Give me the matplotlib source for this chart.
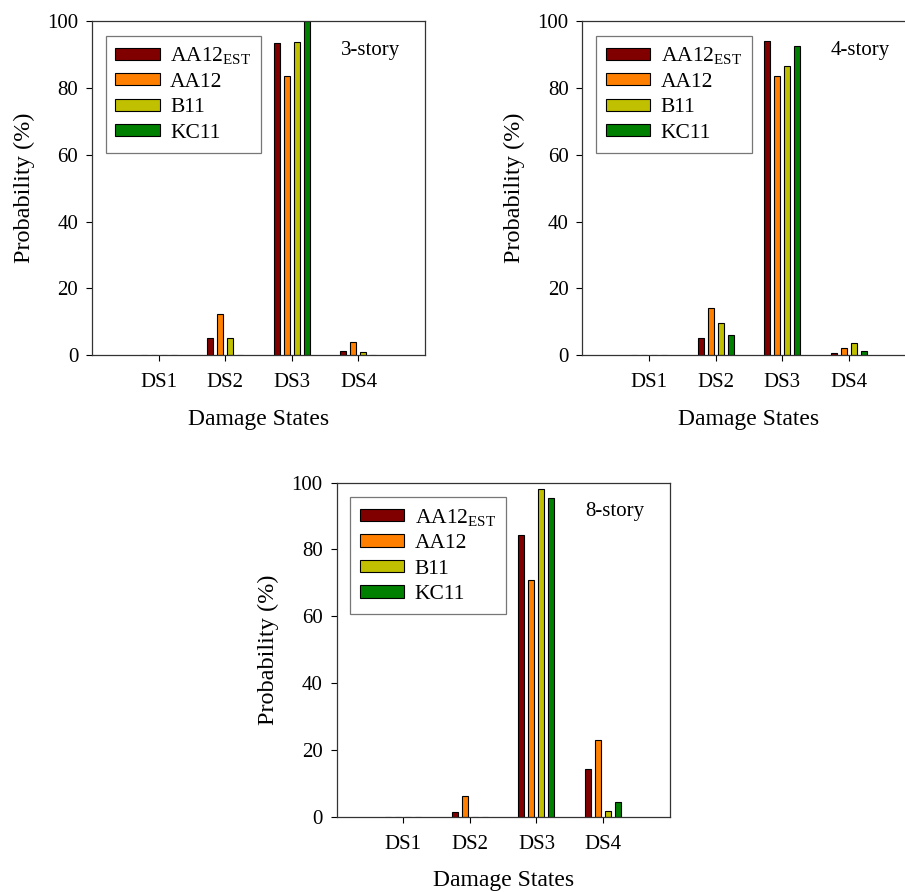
import numpy as np
import matplotlib
matplotlib.use("Agg")
import matplotlib.pyplot as plt

#fonts: Times-like serif for everything, also inside the subscript
plt.rcParams['font.family'] = ['Liberation Serif', 'DejaVu Serif']
plt.rcParams['mathtext.fontset'] = 'custom'
plt.rcParams['mathtext.rm'] = 'Liberation Serif'
plt.rcParams['mathtext.it'] = 'Liberation Serif:italic'

#data
states = ["DS1", "DS2", "DS3", "DS4"]
series = ["AA12$_{\\mathrm{EST}}$", "AA12", "B11", "KC11"]
colors = ["#800000", "#ff8000", "#c0c000", "#008000"]

story3 = [
    [0, 5.0, 93.4, 1.2],
    [0, 12.2, 83.7, 3.8],
    [0, 5.0, 93.7, 1.0],
    [0, 0, 100.0, 0],
]
story4 = [
    [0, 5.0, 94.0, 0.6],
    [0, 14.1, 83.5, 2.0],
    [0, 9.5, 86.5, 3.7],
    [0, 5.9, 92.5, 1.3],
]
story8 = [
    [0, 1.3, 84.4, 14.3],
    [0, 6.3, 70.8, 22.9],
    [0, 0, 98.1, 1.8],
    [0, 0, 95.4, 4.5],
]

panels = [("3-story", story3), ("4-story", story4), ("8-story", story8)]
#axes rectangles in figure fraction (the right panel runs off the edge like the original)
rects = [
    [0.1017, 0.602, 0.368, 0.374],
    [0.6436, 0.602, 0.368, 0.374],
    [0.372, 0.0844, 0.368, 0.3745],
]

fig = plt.figure(figsize=(9.05, 8.92), dpi=100, facecolor="white")

x = np.arange(1, len(states) + 1)
offsets = [-0.225, -0.075, 0.075, 0.225]
width = 0.09

for (name, values), rect in zip(panels, rects):
    ax = fig.add_axes(rect)
    for vals, off, col, lab in zip(values, offsets, colors, series):
        ax.bar(x + off, vals, width, color=col, edgecolor="black",
               linewidth=0.8, label=lab)
    ax.set_xlim(0, 5)
    ax.set_ylim(0, 100)
    ax.set_xticks(x)
    ax.set_xticklabels(states)
    ax.set_yticks([0, 20, 40, 60, 80, 100])
    ax.tick_params(axis='both', direction='out', length=4, width=0.8,
                   labelsize=15, top=False, right=False, pad=6)
    ax.tick_params(axis='x', pad=9)
    for sp in ax.spines.values():
        sp.set_linewidth(0.9)
        sp.set_color("#333333")
    ax.set_xlabel("Damage States", fontsize=17, labelpad=12)
    ax.set_ylabel("Probability (%)", fontsize=17.5, labelpad=9)
    ax.text(0.835, 0.913, name, transform=ax.transAxes, fontsize=15,
            ha="center", va="center")
    leg = ax.legend(loc="upper left", bbox_to_anchor=(0.041, 0.957),
                    borderaxespad=0, fontsize=15.5, frameon=True, fancybox=False,
                    edgecolor="#555555", handlelength=2.05, handleheight=0.5,
                    labelspacing=0.3, borderpad=0.45, handletextpad=0.5)
    leg.get_frame().set_linewidth(0.9)

fig.savefig("out.png", dpi=100)
